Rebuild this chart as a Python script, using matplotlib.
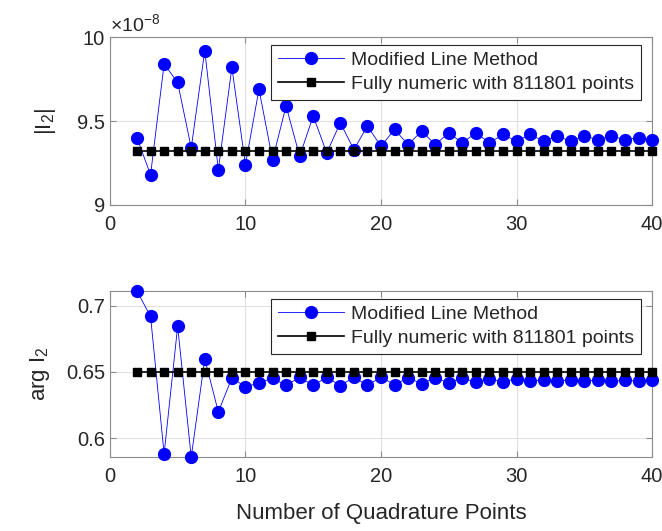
import matplotlib.pyplot as plt

plt.rcParams['font.family'] = ['Liberation Sans', 'DejaVu Sans']
plt.rcParams['mathtext.fontset'] = 'custom'
plt.rcParams['mathtext.rm'] = 'Liberation Sans'
plt.rcParams['mathtext.it'] = 'Liberation Sans:italic'

# quadrature points
n_points = list(range(2, 41))

# |I2| in units of 1e-8
mag_line = [9.40, 9.18, 9.84, 9.73, 9.34, 9.92, 9.21, 9.82, 9.24, 9.69,
            9.27, 9.59, 9.29, 9.53, 9.31, 9.49, 9.33, 9.47, 9.35, 9.45,
            9.36, 9.44, 9.36, 9.43, 9.37, 9.43, 9.37, 9.42, 9.38, 9.42,
            9.38, 9.41, 9.38, 9.41, 9.39, 9.41, 9.39, 9.40, 9.39]
mag_numeric = 9.32

# arg I2
arg_line = [0.711, 0.692, 0.588, 0.6845, 0.5855, 0.6598, 0.6197, 0.6455, 0.6386, 0.6417,
            0.6452, 0.6398, 0.6459, 0.6398, 0.6459, 0.6397, 0.6459, 0.6399, 0.6459, 0.6404,
            0.6454, 0.6412, 0.6454, 0.6418, 0.6454, 0.6421, 0.6449, 0.6424, 0.6449, 0.6429,
            0.6442, 0.6429, 0.6442, 0.6429, 0.6442, 0.6429, 0.6437, 0.6429, 0.6442]
arg_numeric = 0.650

labels = ['Modified Line Method', 'Fully numeric with 811801 points']

text_col = '#262626'
axis_col = '#8c8c8c'

fig = plt.figure(figsize=(6.62, 5.31), dpi=100)
ax1 = fig.add_axes([0.166, 0.614, 0.819, 0.316])
ax2 = fig.add_axes([0.166, 0.139, 0.819, 0.3126])

for ax, y, ref in [(ax1, mag_line, mag_numeric), (ax2, arg_line, arg_numeric)]:
    ax.plot(n_points, y, '-o', color='blue', lw=0.6, markersize=8.5, label=labels[0],
            clip_on=False, zorder=3)
    ax.plot(n_points, [ref] * len(n_points), '-s', color='black', lw=1.2,
            markersize=5.5, label=labels[1], clip_on=False, zorder=4)
    ax.set_xlim(0, 40)
    ax.set_xticks([0, 10, 20, 30, 40])
    ax.grid(True, color='#e0e0e0', lw=0.8)
    ax.set_axisbelow(True)
    ax.tick_params(direction='in', labelsize=14.5, colors=text_col, color=axis_col,
                   length=4, top=True, right=True)
    ax.tick_params(axis='x', pad=7)
    for s in ax.spines.values():
        s.set_color(axis_col)
    leg = ax.legend(loc='upper right', fontsize=14, fancybox=False, framealpha=1,
                    edgecolor='#262626', borderpad=0.35, labelspacing=0.33,
                    handlelength=3.4, handletextpad=0.35, borderaxespad=0.3,
                    bbox_to_anchor=(0.99, 0.99))
    leg.get_frame().set_linewidth(0.8)
    leg.set_zorder(10)
    for t in leg.get_texts():
        t.set_color(text_col)

ax1.set_ylim(9, 10)
ax1.set_yticks([9, 9.5, 10])
ax1.set_yticklabels(['9', '9.5', '10'])
ax1.set_ylabel('|I$_2$|', fontsize=16, color=text_col, labelpad=14)
ax1.text(0.0, 1.015, r'$\times$10$^{-8}$', transform=ax1.transAxes, fontsize=14,
         color=text_col, va='bottom', ha='left')

ax2.set_ylim(0.5855, 0.711)
ax2.set_yticks([0.6, 0.65, 0.7])
ax2.set_yticklabels(['0.6', '0.65', '0.7'])
ax2.set_ylabel('arg I$_2$', fontsize=16, color=text_col, labelpad=10)
ax2.set_xlabel('Number of Quadrature Points', fontsize=16, color=text_col, labelpad=12)

fig.savefig('out.png', dpi=100)
